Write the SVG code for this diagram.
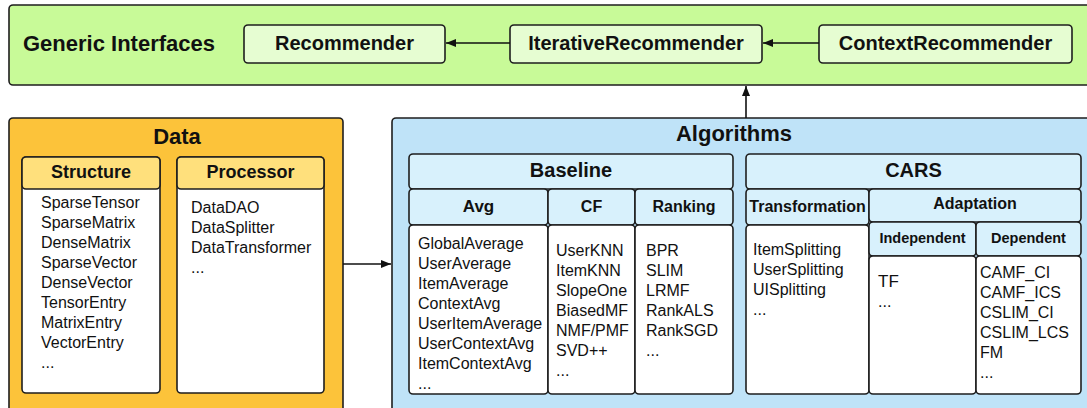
<svg xmlns="http://www.w3.org/2000/svg" width="1087" height="408" viewBox="0 0 1087 408">
<style>
.box{stroke:#1e1e1e;stroke-width:1.6}
.g{fill:#c8fa98}.gi{fill:#e6fdd2}
.o{fill:#fcc33a}.oh{fill:#ffe07c}
.b{fill:#bfe3f8}.bh{fill:#d8f1fc}
.w{fill:#ffffff}
text{font-family:"Liberation Sans",Arial,sans-serif;fill:#111}
.t1{font-size:22px;font-weight:bold}
.t2{font-size:20px;font-weight:bold;text-anchor:middle}
.t3{font-size:18px;font-weight:bold;text-anchor:middle}
.t4{font-size:16px;font-weight:bold;text-anchor:middle}
.t5{font-size:14.5px;font-weight:bold;text-anchor:middle}
.it{font-size:16px}
.ln{stroke:#111;stroke-width:1.6;fill:none}
</style>
<defs>
<marker id="ah" viewBox="0 0 10 10" refX="10" refY="5" markerWidth="10" markerHeight="10" markerUnits="userSpaceOnUse" orient="auto">
<path d="M0,1 L10,5 L0,9 Z" fill="#111"/>
</marker>
</defs>

<g id="generic-interfaces">
<rect class="box g" x="9" y="5" width="1090" height="80" rx="4"/>
<text class="t1" x="23" y="51">Generic Interfaces</text>
</g>
<g id="recommender">
<rect class="box gi" x="244" y="25" width="201" height="38" rx="4"/>
<text class="t2" x="344.5" y="50">Recommender</text>
</g>
<g id="iterative-recommender">
<rect class="box gi" x="510" y="25" width="252" height="38" rx="4"/>
<text class="t2" x="636" y="50">IterativeRecommender</text>
</g>
<g id="context-recommender">
<rect class="box gi" x="819" y="25" width="253" height="38" rx="4"/>
<text class="t2" x="945.5" y="50">ContextRecommender</text>
</g>

<g id="data">
<rect class="box o" x="9" y="118" width="334" height="300" rx="4"/>
<text class="t1" x="177" y="144" text-anchor="middle">Data</text>
</g>
<g id="structure">
<rect class="box w" x="22" y="157" width="138" height="236" rx="4"/>
<rect class="box oh" x="22" y="157" width="138" height="32" rx="4"/>
<text class="t3" x="91" y="178">Structure</text>
<text class="it" x="41" y="208">SparseTensor</text>
<text class="it" x="41" y="228">SparseMatrix</text>
<text class="it" x="41" y="248">DenseMatrix</text>
<text class="it" x="41" y="268">SparseVector</text>
<text class="it" x="41" y="288">DenseVector</text>
<text class="it" x="41" y="308">TensorEntry</text>
<text class="it" x="41" y="328">MatrixEntry</text>
<text class="it" x="41" y="348">VectorEntry</text>
<text class="it" x="41" y="368">...</text>
</g>
<g id="processor">
<rect class="box w" x="177" y="157" width="147" height="236" rx="4"/>
<rect class="box oh" x="177" y="157" width="147" height="32" rx="4"/>
<text class="t3" x="250.5" y="178">Processor</text>
<text class="it" x="191" y="213">DataDAO</text>
<text class="it" x="191" y="233">DataSplitter</text>
<text class="it" x="191" y="253">DataTransformer</text>
<text class="it" x="191" y="273">...</text>
</g>

<g id="algorithms">
<rect class="box b" x="392" y="118" width="710" height="300" rx="4"/>
<text class="t1" x="734" y="141" text-anchor="middle">Algorithms</text>
</g>
<g id="baseline">
<rect class="box bh" x="409" y="154" width="324" height="35" rx="4"/>
<text class="t2" x="571" y="177">Baseline</text>
</g>
<g id="avg">
<rect class="box bh" x="409" y="189" width="139" height="36" rx="4"/>
<rect class="box w" x="409" y="225" width="139" height="169" rx="4"/>
<text class="t4" x="478.5" y="212" style="font-size:17px">Avg</text>
<text class="it" x="418" y="249">GlobalAverage</text>
<text class="it" x="418" y="269">UserAverage</text>
<text class="it" x="418" y="289">ItemAverage</text>
<text class="it" x="418" y="309">ContextAvg</text>
<text class="it" x="418" y="329">UserItemAverage</text>
<text class="it" x="418" y="349">UserContextAvg</text>
<text class="it" x="418" y="369">ItemContextAvg</text>
<text class="it" x="418" y="389">...</text>
</g>
<g id="cf">
<rect class="box bh" x="548" y="189" width="87" height="36" rx="4"/>
<rect class="box w" x="548" y="225" width="87" height="169" rx="4"/>
<text class="t4" x="591.5" y="212">CF</text>
<text class="it" x="556" y="256">UserKNN</text>
<text class="it" x="556" y="276">ItemKNN</text>
<text class="it" x="556" y="296">SlopeOne</text>
<text class="it" x="556" y="316">BiasedMF</text>
<text class="it" x="556" y="336">NMF/PMF</text>
<text class="it" x="556" y="356">SVD++</text>
<text class="it" x="556" y="376">...</text>
</g>
<g id="ranking">
<rect class="box bh" x="635" y="189" width="98" height="36" rx="4"/>
<rect class="box w" x="635" y="225" width="98" height="169" rx="4"/>
<text class="t4" x="684" y="212">Ranking</text>
<text class="it" x="646" y="256">BPR</text>
<text class="it" x="646" y="276">SLIM</text>
<text class="it" x="646" y="296">LRMF</text>
<text class="it" x="646" y="316">RankALS</text>
<text class="it" x="646" y="336">RankSGD</text>
<text class="it" x="646" y="356">...</text>
</g>
<g id="cars">
<rect class="box bh" x="746" y="154" width="335" height="35" rx="4"/>
<text class="t2" x="913.5" y="177">CARS</text>
</g>
<g id="transformation">
<rect class="box bh" x="746" y="189" width="123" height="36" rx="4"/>
<rect class="box w" x="746" y="225" width="123" height="169" rx="4"/>
<text class="t4" x="807.5" y="212">Transformation</text>
<text class="it" x="753" y="255">ItemSplitting</text>
<text class="it" x="753" y="275">UserSplitting</text>
<text class="it" x="753" y="295">UISplitting</text>
<text class="it" x="753" y="315">...</text>
</g>
<g id="adaptation">
<rect class="box bh" x="869" y="189" width="212" height="33" rx="4"/>
<text class="t4" x="975" y="209">Adaptation</text>
</g>
<g id="independent">
<rect class="box bh" x="869" y="222" width="107" height="34" rx="4"/>
<rect class="box w" x="869" y="256" width="107" height="138" rx="4"/>
<text class="t5" x="922.5" y="243">Independent</text>
<text class="it" x="878" y="287" style="font-size:17px">TF</text>
<text class="it" x="878" y="307">...</text>
</g>
<g id="dependent">
<rect class="box bh" x="976" y="222" width="105" height="34" rx="4"/>
<rect class="box w" x="976" y="256" width="105" height="138" rx="4"/>
<text class="t5" x="1028.5" y="243">Dependent</text>
<text class="it" x="980" y="278">CAMF_CI</text>
<text class="it" x="980" y="298">CAMF_ICS</text>
<text class="it" x="980" y="318">CSLIM_CI</text>
<text class="it" x="980" y="338">CSLIM_LCS</text>
<text class="it" x="980" y="358">FM</text>
<text class="it" x="980" y="378">...</text>
</g>

<g id="connectors">
<line class="ln" x1="510" y1="43" x2="446" y2="43" marker-end="url(#ah)"/>
<line class="ln" x1="819" y1="43" x2="763" y2="43" marker-end="url(#ah)"/>
<line class="ln" x1="746" y1="118" x2="746" y2="86" marker-end="url(#ah)"/>
<line class="ln" x1="343" y1="264" x2="391" y2="264" marker-end="url(#ah)"/>
</g>
</svg>
